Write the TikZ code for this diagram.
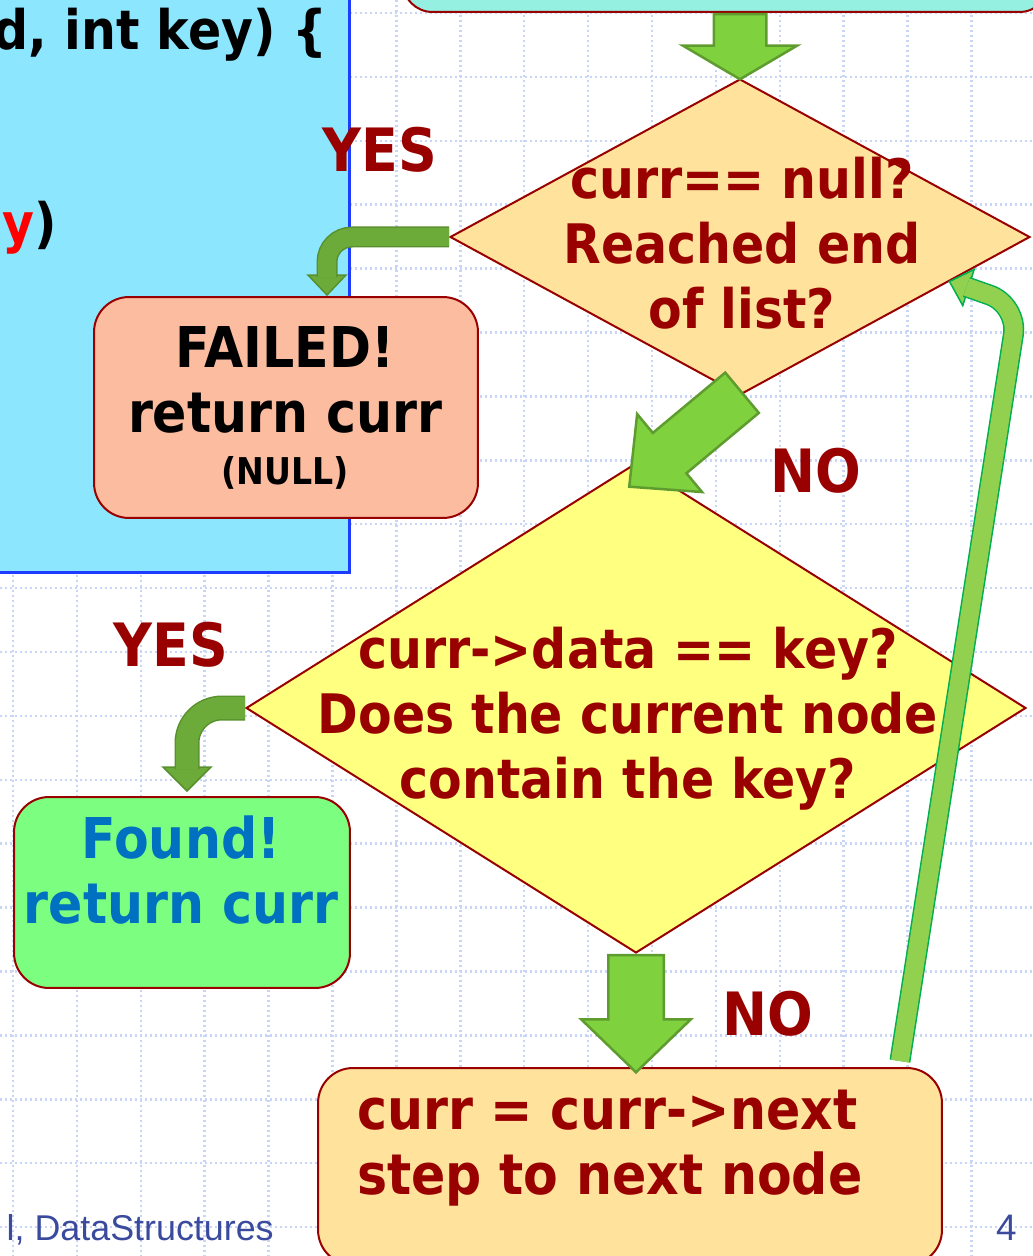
\documentclass[tikz,border=0pt]{standalone}
\usepackage{fontspec}
\setmainfont{DejaVu Sans}[FakeStretch=0.9]
\newfontfamily\slidefont{Liberation Sans}
\usetikzlibrary{shapes.geometric,shapes.arrows,calc}

\definecolor{gridblue}{HTML}{C9D5F7}
\definecolor{codefill}{HTML}{8CE6FE}
\definecolor{codeedge}{HTML}{1E3CFF}
\definecolor{prevfill}{HTML}{96F0E2}
\definecolor{edgered}{HTML}{990000}
\definecolor{nullfill}{HTML}{FFE29C}
\definecolor{keyfill}{HTML}{FFFF80}
\definecolor{failfill}{HTML}{FBBCA0}
\definecolor{foundfill}{HTML}{7CFF80}
\definecolor{foundtext}{HTML}{0070C0}
\definecolor{fatfill}{HTML}{7FD13D}
\definecolor{fatedge}{HTML}{5F9C2F}
\definecolor{bentfill}{HTML}{6CAB3A}
\definecolor{bentedge}{HTML}{58902E}
\definecolor{backfill}{HTML}{92D050}
\definecolor{backedge}{HTML}{00B050}
\definecolor{slideblue}{HTML}{3A4A9C}

\tikzset{
  gridline/.style={draw=gridblue, line width=0.05cm, dash pattern=on 0.05cm off 0.05cm},
  cond/.style={diamond, draw=edgered, line width=0.04cm, inner sep=0pt},
  endbox/.style={rectangle, rounded corners=0.7cm, draw=edgered, line width=0.04cm, inner sep=0pt},
  comic/.style={font=\fontsize{#1}{37}\selectfont\bfseries, inner sep=0pt},
  comic/.default=31,
  answer/.style={font=\fontsize{34}{40}\selectfont\bfseries, text=edgered, inner sep=0pt},
  fatarrow/.style={single arrow, draw=fatedge, fill=fatfill, line width=0.05cm, inner xsep=0pt, minimum width=0pt},
  bent/.style={draw=bentedge, double=bentfill, line width=0.03cm},
  benthead/.style={draw=bentedge, fill=bentfill, line width=0.03cm},
  back/.style={draw=backedge, double=backfill, line width=0.03cm},
  backhead/.style={draw=backedge, fill=backfill, line width=0.03cm},
}

% block arrow from tail #2 to tip #3
\newcommand{\fatarrow}[3][]{%
  \path let \p1=($(#3)-(#2)$), \n1={veclen(\x1,\y1)}, \n2={atan2(\y1,\x1)} in
    (#2) node[fatarrow, #1, anchor=tail, rotate=\n2, minimum height=\n1] {};}

\begin{document}
\begin{tikzpicture}[x=0.02cm, y=-0.02cm]
\useasboundingbox (0,0) rectangle (1033,1256);
\clip (0,0) rectangle (1033,1256);

% background grid
\foreach \k in {0,...,16} \draw[gridline] ({13+63.9*\k},0) -- ({13+63.9*\k},1256);
\foreach \k in {0,...,19} \draw[gridline] (0,{13+63.9*\k}) -- (1033,{13+63.9*\k});

% code panel, cut at the left
\node[rectangle, draw=codeedge, fill=codefill, line width=0.06cm, inner sep=0pt,
      minimum width=7.2cm, minimum height=11.66cm] (code) at (170,281.5) {};
\node[comic, anchor=base east] (sig) at (328,50) {d, int key) \{};
\node[comic, anchor=base east] (loop) at (57,243) {\textcolor{red}{y})};

% previous step, cut at the top
\node[endbox, fill=prevfill, rounded corners=0.6cm, minimum width=12.94cm, minimum height=1.84cm] (init) at (726,-34) {};

% decisions
\node[cond, fill=nullfill, minimum width=11.6cm, minimum height=6.32cm] (isnull) at (740,237) {};
\node[comic, text=edgered, align=center] (isnulltxt) at (742,243) {curr== null?\\Reached end\\of list?};
\node[cond, fill=keyfill, minimum width=15.6cm, minimum height=9.8cm] (haskey) at (636,708) {};
\node[comic, text=edgered, align=center] (haskeytxt) at (628,719) {curr->data == key?\\Does the current node\\contain the key?};

% outcomes
\node[endbox, fill=failfill, minimum width=7.68cm, minimum height=4.42cm] (failed) at (286,407.5) {};
\node[comic=32, align=center] (failedtxt) at (285,408) {FAILED!\\return curr\\[-7pt]{\fontsize{21}{25}\selectfont (NULL)}};
\node[endbox, fill=foundfill, minimum width=6.72cm, minimum height=3.82cm] (found) at (182,892.5) {};
\node[comic=32, text=foundtext, align=center] (foundtxt) at (181,870) {Found!\\return curr};
\node[endbox, fill=nullfill, minimum width=12.48cm, minimum height=3.94cm] (advance) at (630,1166.5) {};
\node[comic=32, text=edgered, align=left, anchor=west] (advancetxt) at (357,1148) {curr = curr->next\\step to next node};

% branch labels
\node[answer, anchor=base] (yes1) at (380,172) {YES};
\node[answer, anchor=base] (no1) at (816,492) {NO};
\node[answer, anchor=base] (yes2) at (171,666) {YES};
\node[answer, anchor=base] (no2) at (768,1035) {NO};

% block arrows
\coordinate (a1tail) at (init.south -| isnull.north);
\fatarrow[inner ysep=0.5cm, single arrow head extend=0.62cm, single arrow tip angle=119]{a1tail}{isnull.north}
\coordinate (a2tail) at ($(isnull.south)+(3,-4)$);
\coordinate (a2tip) at ($(haskey.north)+(-6,24)$);
\fatarrow[inner ysep=0.5cm, single arrow head extend=0.49cm, single arrow tip angle=88]{a2tail}{a2tip}
\coordinate (a3tip) at ($(haskey.south |- advance.north)+(0,4)$);
\fatarrow[inner ysep=0.53cm, single arrow head extend=0.54cm, single arrow tip angle=92]{haskey.south}{a3tip}

% bent arrows to the outcomes
\coordinate (b1tip) at ($(failed.north)+(41,-1)$);
\path[benthead] ($(b1tip)+(-19,-20)$) -- (b1tip) -- ($(b1tip)+(19,-20)$) -- cycle;
\draw[bent, double distance=0.36cm, rounded corners=0.5cm] (isnull.west) -| ($(b1tip)+(0,-18)$);
\coordinate (b2tip) at ($(found.north)+(5,-5)$);
\path[benthead] ($(b2tip)+(-24,-24)$) -- (b2tip) -- ($(b2tip)+(24,-24)$) -- cycle;
\draw[bent, double distance=0.44cm, rounded corners=0.7cm] (haskey.west) -| ($(b2tip)+(0,-22)$);

% loop back to the first test
\coordinate (rtail) at ($(advance.north east)+(-43,-6)$);
\coordinate (rtip) at (isnull.-12);
\coordinate (rbend) at (1018,305);
\path[backhead] ($(rtip)+(24.7,-12.1)$) -- (rtip) -- ($(rtip)+(13.3,24.1)$) -- cycle;
\draw[back, double distance=0.36cm, rounded corners=0.6cm] (rtail) -- (rbend) -- ($(rtip)+(17,5.4)$);

% slide footer
\node[anchor=base east, inner sep=0pt, font=\slidefont\fontsize{20.4}{24}\selectfont, text=slideblue] (credit) at (274,1240) {l, DataStructures};
\node[anchor=base east, inner sep=0pt, font=\slidefont\fontsize{21}{24}\selectfont, text=slideblue] (pagenum) at (1017,1240) {4};
\end{tikzpicture}
\end{document}
